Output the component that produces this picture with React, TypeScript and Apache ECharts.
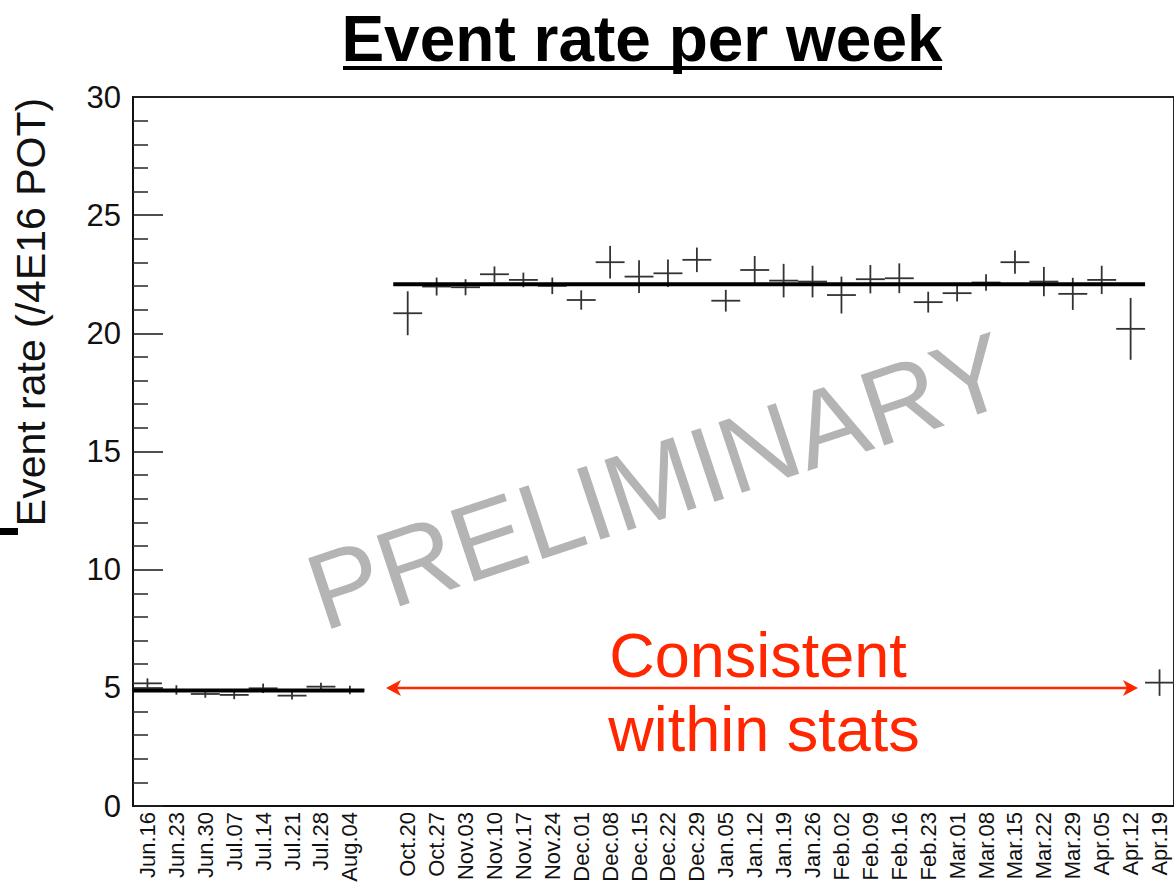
import React, { useEffect, useRef } from "react";
import * as echarts from "echarts";

const weeks: string[] = [
  "Jun.16", "Jun.23", "Jun.30", "Jul.07", "Jul.14", "Jul.21", "Jul.28", "Aug.04",
  "",
  "Oct.20", "Oct.27", "Nov.03", "Nov.10", "Nov.17", "Nov.24", "Dec.01", "Dec.08",
  "Dec.15", "Dec.22", "Dec.29", "Jan.05", "Jan.12", "Jan.19", "Jan.26", "Feb.02",
  "Feb.09", "Feb.16", "Feb.23", "Mar.01", "Mar.08", "Mar.15", "Mar.22", "Mar.29",
  "Apr.05", "Apr.12", "Apr.19",
];

const rates: (number | null)[] = [
  5.19, 4.91, 4.74, 4.70, 4.98, 4.67, 5.05, 4.91,
  null,
  20.85, 21.98, 21.95, 22.50, 22.26, 22.01, 21.41, 23.01,
  22.40, 22.54, 23.11, 21.38, 22.68, 22.23, 22.19, 21.62,
  22.29, 22.33, 21.32, 21.70, 22.15, 23.01, 22.19, 21.67,
  22.26, 20.19, 5.22,
];

const errors: (number | null)[] = [
  0.21, 0.20, 0.16, 0.18, 0.20, 0.16, 0.16, 0.18,
  null,
  0.93, 0.38, 0.34, 0.33, 0.31, 0.35, 0.41, 0.69,
  0.69, 0.58, 0.52, 0.46, 0.59, 0.71, 0.67, 0.78,
  0.60, 0.63, 0.44, 0.35, 0.35, 0.49, 0.62, 0.68,
  0.60, 1.31, 0.56,
];

// fits: [first bin index, last bin index, value]
const fitLow: number[] = [0, 7, 4.89];
const fitHigh: number[] = [9, 34, 22.08];

const yMin = 0;
const yMax = 30;
const yStep = 5;

const FONT = "'Liberation Sans', Arial, Helvetica, sans-serif";

export default function App() {
  const ref = useRef<HTMLDivElement>(null);

  useEffect(() => {
    if (!ref.current) return;
    const chart = echarts.init(ref.current, null, { renderer: "svg" });

    const pointData = rates
      .map((v, i) => (v == null ? null : [i, v, errors[i] as number]))
      .filter((d) => d !== null);

    chart.setOption({
      animation: false,
      grid: {
        left: 133,
        top: 97,
        right: -1,
        bottom: 83,
        show: true,
        borderColor: "#222",
        borderWidth: 2,
        backgroundColor: "transparent",
      },
      xAxis: {
        type: "category",
        data: weeks,
        boundaryGap: true,
        axisLine: { lineStyle: { color: "#111", width: 2 } },
        axisTick: {
          inside: true,
          length: 19,
          interval: 0,
          lineStyle: { color: "#222", width: 1.6 },
        },
        axisLabel: {
          rotate: 90,
          interval: 0,
          fontSize: 22,
          fontFamily: FONT,
          color: "#111",
          margin: 6,
        },
        splitLine: { show: false },
      },
      yAxis: {
        type: "value",
        min: yMin,
        max: yMax,
        interval: yStep,
        axisLine: { show: true, lineStyle: { color: "#111", width: 2 } },
        axisTick: {
          show: true,
          inside: true,
          length: 30,
          lineStyle: { color: "#222", width: 1.6 },
        },
        minorTick: {
          show: true,
          splitNumber: 5,
          length: 15,
          lineStyle: { color: "#333", width: 1.6 },
        },
        splitLine: { show: false },
        minorSplitLine: { show: false },
        axisLabel: {
          fontSize: 31,
          fontFamily: FONT,
          color: "#111",
          margin: 12,
        },
      },
      series: [
        {
          type: "custom",
          name: "rate",
          data: pointData,
          encode: { x: 0, y: 1 },
          renderItem: (params: any, api: any) => {
            const i = api.value(0);
            const v = api.value(1);
            const e = api.value(2);
            const c = api.coord([i, v]);
            const top = api.coord([i, v + e]);
            const bot = api.coord([i, v - e]);
            const w = api.size([1, 0])[0];
            const style = { stroke: "#333", lineWidth: 1.8 };
            return {
              type: "group",
              children: [
                {
                  type: "line",
                  shape: { x1: c[0] - w / 2, y1: c[1], x2: c[0] + w / 2, y2: c[1] },
                  style,
                },
                {
                  type: "line",
                  shape: { x1: c[0], y1: top[1], x2: c[0], y2: bot[1] },
                  style,
                },
              ],
            };
          },
        },
        {
          type: "custom",
          name: "fit",
          data: [fitLow, fitHigh],
          encode: { x: [0, 1], y: 2 },
          renderItem: (params: any, api: any) => {
            const s = api.value(0);
            const e = api.value(1);
            const v = api.value(2);
            const a = api.coord([s, v]);
            const b = api.coord([e, v]);
            const w = api.size([1, 0])[0];
            return {
              type: "line",
              shape: { x1: a[0] - w / 2, y1: a[1], x2: b[0] + w / 2, y2: b[1] },
              style: { stroke: "#000", lineWidth: 4 },
            };
          },
        },
      ],
      graphic: [
        {
          type: "text",
          x: 642,
          y: 39,
          style: {
            text: "Event rate per week",
            fontSize: 64,
            fontWeight: "bold",
            fontFamily: FONT,
            fill: "#000",
            textAlign: "center",
            textVerticalAlign: "middle",
          },
        },
        {
          type: "rect",
          shape: { x: 343, y: 66, width: 599, height: 4 },
          style: { fill: "#000" },
        },
        {
          type: "text",
          x: 31,
          y: 312,
          rotation: Math.PI / 2,
          style: {
            text: "Event rate (/4E16 POT)",
            fontSize: 41,
            fontFamily: FONT,
            fill: "#111",
            textAlign: "center",
            textVerticalAlign: "middle",
          },
        },
        {
          type: "rect",
          shape: { x: 0, y: 528, width: 18, height: 7 },
          style: { fill: "#000" },
        },
        {
          type: "text",
          x: 658,
          y: 481,
          rotation: 0.32,
          z: -1,
          style: {
            text: "PRELIMINARY",
            fontSize: 108,
            fontFamily: FONT,
            fill: "#b4b4b4",
            textAlign: "center",
            textVerticalAlign: "middle",
          },
        },
        {
          type: "text",
          x: 758,
          y: 655,
          style: {
            text: "Consistent",
            fontSize: 63,
            fontFamily: FONT,
            fill: "#ff2600",
            textAlign: "center",
            textVerticalAlign: "middle",
          },
        },
        {
          type: "text",
          x: 764,
          y: 729,
          style: {
            text: "within stats",
            fontSize: 63,
            fontFamily: FONT,
            fill: "#ff2600",
            textAlign: "center",
            textVerticalAlign: "middle",
          },
        },
        {
          type: "line",
          shape: { x1: 392, y1: 688, x2: 1131, y2: 688 },
          style: { stroke: "#ff2600", lineWidth: 2.5 },
        },
        {
          type: "polygon",
          shape: { points: [[386, 688], [401, 680], [397, 688], [401, 696]] },
          style: { fill: "#ff2600" },
        },
        {
          type: "polygon",
          shape: { points: [[1138, 688], [1123, 680], [1127, 688], [1123, 696]] },
          style: { fill: "#ff2600" },
        },
      ],
    });

    return () => chart.dispose();
  }, []);

  return (
    <div
      ref={ref}
      style={{ position: "absolute", left: 0, top: 0, width: 1174, height: 889 }}
    />
  );
}
